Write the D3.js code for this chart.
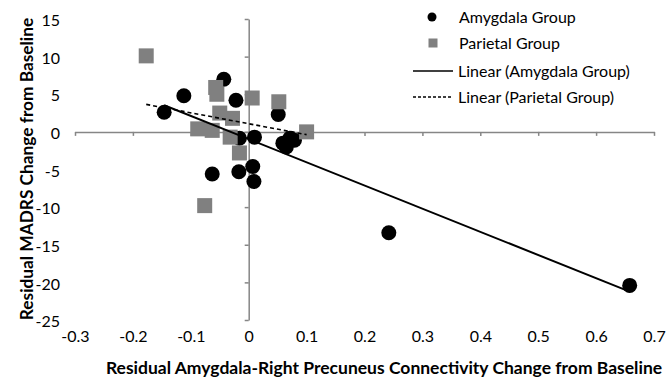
<!DOCTYPE html>
<html>
<head>
<meta charset="utf-8">
<script src="https://cdn.jsdelivr.net/npm/d3@7"></script>
<style>
  body { margin: 0; background: #fff; }
  svg { display: block; }
  text { font-family: Lato, "Noto Sans", sans-serif; fill: #000; }
</style>
</head>
<body>
<svg id="chart" width="667" height="380"></svg>
<script>
// Amygdala group: residual connectivity change vs residual MADRS change
const amygdalaX = [-0.146, -0.112, -0.043, -0.022, -0.016, 0.010, 0.051, 0.059, 0.065, 0.071, 0.079, -0.063, -0.017, 0.007, 0.009, 0.242, 0.658];
const amygdalaY = [2.6, 4.8, 7.0, 4.2, -0.85, -0.7, 2.3, -1.5, -2.0, -0.85, -1.1, -5.6, -5.3, -4.6, -6.6, -13.4, -20.4];

// Parietal group
const parietalX = [-0.177, -0.057, -0.055, 0.006, 0.052, 0.100, -0.088, -0.050, -0.028, -0.016, -0.076, -0.063, -0.032];
const parietalY = [10.1, 5.9, 5.0, 4.5, 4.0, 0.0, 0.4, 2.5, 1.8, -2.8, -9.8, 0.2, -0.7];

const xTicks = [-0.3, -0.2, -0.1, 0, 0.1, 0.2, 0.3, 0.4, 0.5, 0.6, 0.7];
const yTicks = [15, 10, 5, 0, -5, -10, -15, -20, -25];

const seriesNames = ["Amygdala Group", "Parietal Group", "Linear (Amygdala Group)", "Linear (Parietal Group)"];
const xTitle = "Residual Amygdala-Right Precuneus Connectivity Change from Baseline";
const yTitle = "Residual MADRS Change from Baseline";

const svg = d3.select("#chart");
const axisColor = "#868686";
const squareColor = "#808080";

const x = d3.scaleLinear().domain([-0.3, 0.7]).range([75, 654]);
const y = d3.scaleLinear().domain([-25, 15]).range([320, 19]);

// Least-squares line, drawn across the x-range of its series
function fit(xs, ys) {
  const mx = d3.mean(xs), my = d3.mean(ys);
  let sxy = 0, sxx = 0;
  xs.forEach((v, i) => { sxy += (v - mx) * (ys[i] - my); sxx += (v - mx) * (v - mx); });
  const slope = sxy / sxx, icpt = my - slope * mx;
  const [x0, x1] = d3.extent(xs);
  return [[x0, icpt + slope * x0], [x1, icpt + slope * x1]];
}

// Crossing axes through the origin
const xAxis = svg.append("g")
  .attr("transform", `translate(0,${y(0)})`)
  .call(d3.axisBottom(x).tickValues(xTicks).tickFormat("").tickSize(4).tickSizeOuter(0));
const yAxis = svg.append("g")
  .attr("transform", `translate(${x(0)},0)`)
  .call(d3.axisLeft(y).tickValues(yTicks).tickFormat("").tickSize(4).tickSizeOuter(0));
[xAxis, yAxis].forEach(g => {
  g.selectAll("path, line").attr("stroke", axisColor).attr("stroke-width", 1.5);
});

// Tick labels along the low edges of the plot
const fmt = d => String(d);
const xLab = svg.append("g")
  .attr("transform", `translate(0,331)`)
  .call(d3.axisBottom(x).tickValues(xTicks).tickFormat(fmt).tickSize(0).tickPadding(0));
const yLab = svg.append("g")
  .attr("transform", `translate(60,1.5)`)
  .call(d3.axisLeft(y).tickValues(yTicks).tickFormat(fmt).tickSize(0).tickPadding(0));
[xLab, yLab].forEach(g => {
  g.select(".domain").remove();
  g.selectAll("text").attr("font-size", 16).attr("font-family", "Lato, 'Noto Sans', sans-serif").attr("fill", "#000");
});

// Markers
svg.append("g").selectAll("circle")
  .data(amygdalaX.map((v, i) => [v, amygdalaY[i]]))
  .join("circle")
  .attr("cx", d => x(d[0])).attr("cy", d => y(d[1])).attr("r", 7.5)
  .attr("fill", "#000");

const sq = 15;
svg.append("g").selectAll("rect")
  .data(parietalX.map((v, i) => [v, parietalY[i]]))
  .join("rect")
  .attr("x", d => x(d[0]) - sq / 2).attr("y", d => y(d[1]) - sq / 2)
  .attr("width", sq).attr("height", sq)
  .attr("fill", squareColor);

// Trend lines
const line = d3.line().x(d => x(d[0])).y(d => y(d[1]));
svg.append("path").datum(fit(amygdalaX, amygdalaY))
  .attr("d", line).attr("stroke", "#000").attr("stroke-width", 2).attr("fill", "none");
svg.append("path").datum(fit(parietalX, parietalY))
  .attr("d", line).attr("stroke", "#000").attr("stroke-width", 1.6)
  .attr("stroke-dasharray", "4,3").attr("fill", "none");

// Legend
const leg = svg.append("g");
const rows = [17, 43, 71, 97];
leg.append("circle").attr("cx", 432).attr("cy", rows[0]).attr("r", 4.5).attr("fill", "#000");
leg.append("rect").attr("x", 428.5).attr("y", rows[1] - 4.5).attr("width", 9).attr("height", 9).attr("fill", squareColor);
leg.append("line").attr("x1", 413).attr("x2", 453).attr("y1", rows[2]).attr("y2", rows[2])
  .attr("stroke", "#000").attr("stroke-width", 1.5);
leg.append("line").attr("x1", 413).attr("x2", 453).attr("y1", rows[3]).attr("y2", rows[3])
  .attr("stroke", "#000").attr("stroke-width", 1.5).attr("stroke-dasharray", "3,2");
leg.selectAll("text").data(seriesNames).join("text")
  .attr("x", (d, i) => i < 2 ? 459 : 458)
  .attr("y", (d, i) => rows[i])
  .attr("dy", "0.36em")
  .attr("font-size", 16)
  .text(d => d);

// Axis titles
svg.append("text")
  .attr("x", 384).attr("y", 368).attr("dy", "0.36em")
  .attr("text-anchor", "middle").attr("font-weight", "bold").attr("font-size", 17.5)
  .text(xTitle);
svg.append("text")
  .attr("transform", `translate(27,169) rotate(-90)`)
  .attr("dy", "0.36em")
  .attr("text-anchor", "middle").attr("font-weight", "bold").attr("font-size", 17.3)
  .text(yTitle);
</script>
</body>
</html>
